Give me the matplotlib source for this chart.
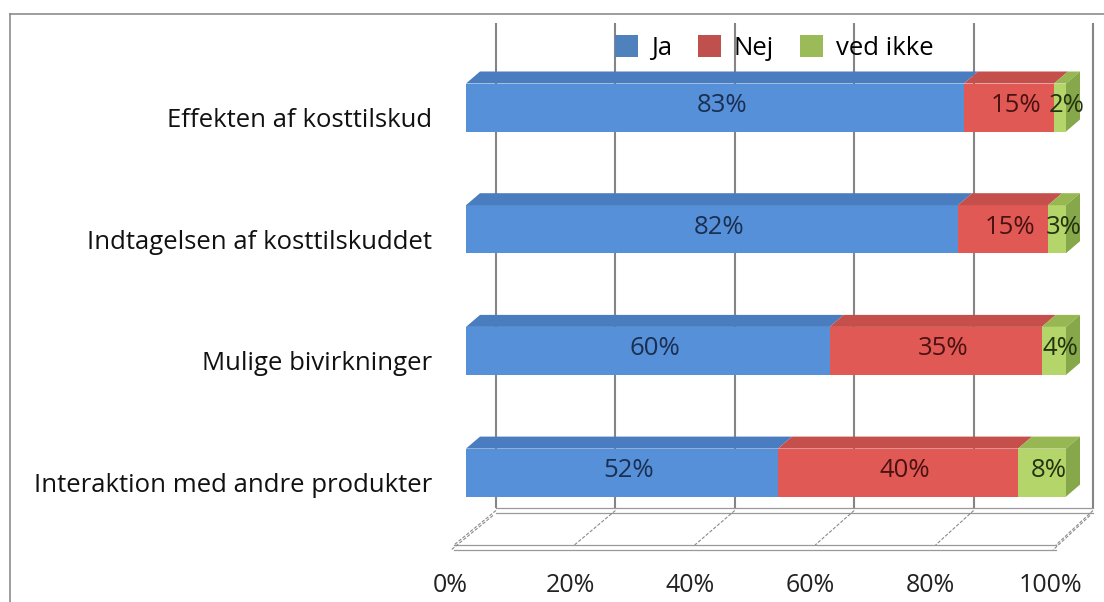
import numpy as np
import matplotlib.pyplot as plt
from matplotlib.patches import Polygon, Rectangle, Patch

# Survey answers (percent)
categories = ["Effekten af kosttilskud", "Indtagelsen af kosttilskuddet",
              "Mulige bivirkninger", "Interaktion med andre produkter"]
series = ["Ja", "Nej", "ved ikke"]
ja = [83, 82, 60, 52]
nej = [15, 15, 35, 40]
ved_ikke = [2, 3, 4, 8]
tick_values = [0, 0.2, 0.4, 0.6, 0.8, 1.0]
tick_labels = ["0%", "20%", "40%", "60%", "80%", "100%"]

# Excel-ish colours: front, top, side, label text
front_cols = ["#5690D8", "#E05955", "#B4D56A"]
top_cols = ["#4A7CC0", "#C44F4B", "#96B752"]
side_cols = ["#4472B0", "#B04744", "#86A84A"]
text_cols = ["#1B2F52", "#4A1212", "#24330F"]
legend_cols = ["#4F81BD", "#C0504D", "#9BBB59"]

plt.rcParams['font.family'] = ['Open Sans', 'DejaVu Sans']
FS = 18.5

W, H = 1104, 602
fig = plt.figure(figsize=(W / 100, H / 100), dpi=100)
ax = fig.add_axes([0, 0, 1, 1])

# data -> pixel layout: x=0 at 466px, 600px per 100%; rows 121.7px apart
px_x0, px_per = 466, 600.0
px_y0, px_row = 107.5, 121.7
ax.set_xlim(-px_x0 / px_per, (W - px_x0) / px_per)
ax.set_ylim((H - px_y0) / px_row, -px_y0 / px_row)
ax.axis('off')

def px_dx(p):
    return p / px_per

def px_dy(p):
    return p / px_row

bar_h = px_dy(48)
dx, dy = px_dx(14), px_dy(12)
wall_off, wall_scale = px_dx(30), 0.995
grid_top, grid_bot = px_dy(23 - px_y0), px_dy(508 - px_y0)
floor_front = px_dy(545 - px_y0)
fl, fr = px_dx(454 - px_x0), px_dx(1056 - px_x0)
slab = px_dy(5)
gcol = "#858585"

# back wall gridlines
for v in tick_values:
    xw = wall_off + v * wall_scale
    ax.plot([xw, xw], [grid_top, grid_bot], color=gcol, lw=1.5, zorder=1,
            solid_capstyle='butt')

# floor slab (two stacked outlines) and slanted tick lines
bl, br = wall_off, wall_off + wall_scale
for off in (slab, 0):
    ax.add_patch(Polygon([(bl, grid_bot + off), (br, grid_bot + off),
                          (fr, floor_front + off), (fl, floor_front + off)],
                         closed=True, facecolor="white", edgecolor="none", zorder=1.5))
    ax.plot([bl, br], [grid_bot + off, grid_bot + off], color="#999999", lw=0.9, zorder=1.6)
    ax.plot([fl, fr], [floor_front + off, floor_front + off], color="#999999", lw=0.9, zorder=1.6)
for i, v in enumerate(tick_values):
    xb = wall_off + v * wall_scale
    xf = fl + v * (fr - fl)
    ls = (0, (3, 1.5))
    ax.plot([xb, xf], [grid_bot + slab * 0.5, floor_front], color="#8a8a8a", lw=0.8,
            ls=ls, zorder=1.7)
    if i in (0, len(tick_values) - 1):
        ax.plot([xb - px_dx(3), xf - px_dx(3)], [grid_bot + slab * 1.5, floor_front + slab],
                color="#8a8a8a", lw=0.8, ls=ls, zorder=1.7)
    ax.text(v - px_dx(16), px_dy(585 - px_y0), tick_labels[i], ha='center', va='center',
            fontsize=18, color="#222222")

# 3D-looking stacked bars (100% stacked)
data = np.array([ja, nej, ved_ikke], dtype=float)
shares = data / data.sum(axis=0)
for r, cat in enumerate(categories):
    top = r - bar_h / 2
    bot = r + bar_h / 2
    left = 0.0
    for s in range(len(series)):
        w = shares[s, r]
        ax.add_patch(Rectangle((left, top), w, bar_h, facecolor=front_cols[s],
                               edgecolor="none", zorder=3))
        ax.add_patch(Polygon([(left, top), (left + w, top), (left + w + dx, top - dy),
                              (left + dx, top - dy)], closed=True,
                             facecolor=top_cols[s], edgecolor="none", zorder=3))
        ax.text(left + w / 2 + dx / 2, r - px_dy(2), f"{data[s, r]:.0f}%",
                ha='center', va='center', fontsize=FS, color=text_cols[s], zorder=5)
        left += w
    ax.add_patch(Polygon([(left, top), (left + dx, top - dy), (left + dx, bot - dy),
                          (left, bot)], closed=True, facecolor=side_cols[-1],
                         edgecolor="none", zorder=3))
    ax.text(px_dx(432 - px_x0), r + px_dy(13), cat, ha='right', va='center',
            fontsize=FS, color="#111111")

# chart border (left and top edges visible)
fig.add_artist(plt.Line2D([10 / W, 10 / W], [0, 1 - 14 / H], color="#8c8c8c", lw=1.2))
fig.add_artist(plt.Line2D([10 / W, 1], [1 - 14 / H, 1 - 14 / H], color="#8c8c8c", lw=1.2))

handles = [Patch(facecolor=c, edgecolor="none") for c in legend_cols]
fig.legend(handles, series, loc='center', bbox_to_anchor=(774 / W, 1 - 48 / H),
           ncol=3, frameon=False, fontsize=FS, handlelength=0.9, handleheight=0.9,
           handletextpad=0.5, columnspacing=1.0)

fig.savefig("out.png", dpi=100, facecolor="white")
